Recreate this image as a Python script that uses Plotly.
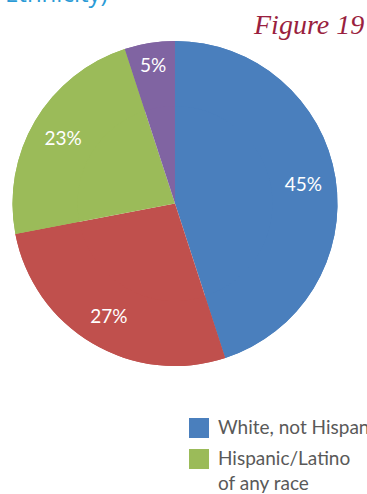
import plotly.graph_objects as go

# Population share by race/ethnicity
categories = ["White, not Hispanic", "Black, not Hispanic",
              "Hispanic/Latino<br>of any race", "Other, not Hispanic"]
shares = [45, 27, 23, 5]
colors = ["#4A7FBD", "#C0504D", "#9BBB59", "#8064A2"]

# Only these entries appear in the key
legend_items = [0, 2]

W, H = 367, 494


def px_x(x):
    return x / W


def px_y(y):
    return 1 - y / H


pie_domain = dict(x=[px_x(12), px_x(338)], y=[px_y(366), px_y(41)])
common = dict(
    labels=categories, values=shares, sort=False,
    direction="clockwise", rotation=0,
    marker=dict(colors=colors, line=dict(width=0)),
    domain=pie_domain, showlegend=False,
)

fig = go.Figure()
# Solid pie
fig.add_trace(go.Pie(textinfo="none", hoverinfo="skip", **common))
# Same slices as an outer ring, so the percentages sit near the rim
fig.add_trace(go.Pie(
    hole=0.6,
    textinfo="percent",
    textposition="inside",
    insidetextorientation="horizontal",
    textfont=dict(family="Lato", size=19, color="white"),
    hoverinfo="label+percent",
    **common,
))

# Key: coloured squares with labels
shapes = []
annotations = []
rows = [428, 459]
for row, idx in zip(rows, legend_items):
    shapes.append(dict(
        type="rect", xref="paper", yref="paper",
        x0=px_x(189), x1=px_x(209), y0=px_y(row + 10), y1=px_y(row - 10),
        fillcolor=colors[idx], line=dict(width=0),
    ))
    annotations.append(dict(
        x=px_x(216), y=px_y(row - 15), xref="paper", yref="paper",
        xanchor="left", yanchor="top", align="left",
        text=categories[idx], showarrow=False,
        font=dict(family="Lato", size=19, color="#595959"),
    ))

annotations.append(dict(
    x=px_x(3), y=px_y(-8), xref="paper", yref="paper",
    xanchor="left", yanchor="middle",
    text="Ethnicity)", showarrow=False,
    font=dict(family="Open Sans", size=24, color="#2B9BD6"),
))
annotations.append(dict(
    x=px_x(366), y=px_y(24), xref="paper", yref="paper",
    xanchor="right", yanchor="middle",
    text="<i>Figure 19</i>", showarrow=False,
    font=dict(family="Liberation Serif", size=28, color="#9A1F40"),
))

fig.update_layout(
    width=W, height=H,
    margin=dict(l=0, r=0, t=0, b=0),
    paper_bgcolor="white",
    plot_bgcolor="white",
    shapes=shapes,
    annotations=annotations,
)

fig.write_html("out.html")
